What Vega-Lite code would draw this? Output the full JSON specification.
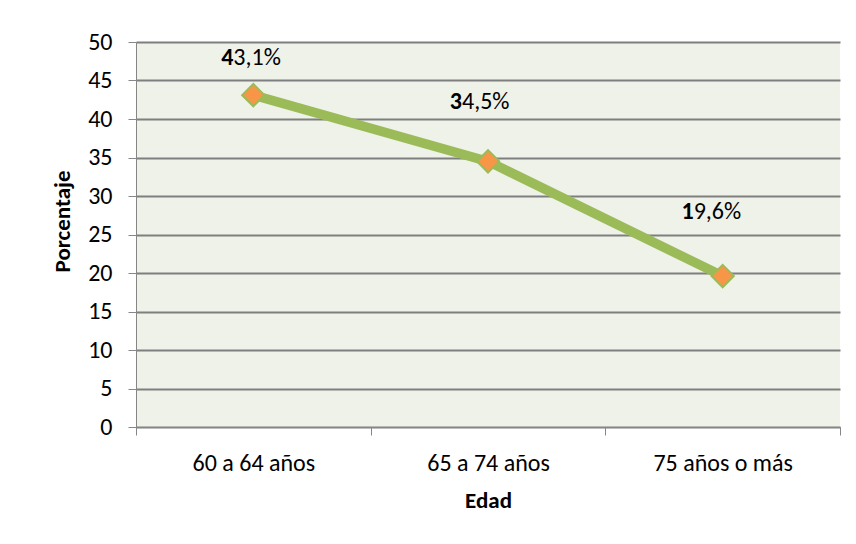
{
  "$schema": "https://vega.github.io/schema/vega-lite/v6.json",
  "width": 704,
  "height": 385,
  "autosize": {"type": "none"},
  "padding": {"left": 136, "top": 42, "right": 16, "bottom": 117},
  "background": "white",
  "config": {
    "view": {"fill": "#EFF2E9", "stroke": null},
    "font": "Carlito, Lato",
    "axis": {
      "domainColor": "#868686",
      "tickColor": "#868686",
      "gridColor": "#7f7f7f",
      "gridWidth": 1.8,
      "labelFont": "Carlito, Lato",
      "labelFontSize": 24,
      "labelColor": "#000000",
      "titleFont": "Carlito, Lato",
      "titleFontSize": 23,
      "titleFontWeight": "bold",
      "titleColor": "#000000"
    }
  },
  "data": {
    "values": [
      {"Edad": "60 a 64 años", "Porcentaje": 43.1, "a": "4", "b": "3,1%"},
      {"Edad": "65 a 74 años", "Porcentaje": 34.5, "a": "3", "b": "4,5%"},
      {"Edad": "75 años o más", "Porcentaje": 19.6, "a": "1", "b": "9,6%"}
    ]
  },
  "encoding": {
    "x": {
      "field": "Edad",
      "type": "nominal",
      "sort": null,
      "bandPosition": 0.5,
      "scale": {"type": "band", "paddingInner": 0, "paddingOuter": 0},
      "axis": {
        "title": "Edad",
        "labelAngle": 0,
        "tickBand": "extent",
        "tickSize": 8,
        "labelBaseline": "middle",
        "labelPadding": 28,
        "grid": false,
        "titleY": 73,
        "titleBaseline": "middle"
      }
    },
    "y": {
      "field": "Porcentaje",
      "type": "quantitative",
      "scale": {"domain": [0, 50], "nice": false},
      "axis": {
        "title": "Porcentaje",
        "values": [0, 5, 10, 15, 20, 25, 30, 35, 40, 45, 50],
        "tickSize": 8,
        "labelPadding": 16,
        "labelBaseline": "middle",
        "titleX": -74,
        "titleY": 179,
        "titleAngle": -90,
        "titleAlign": "center",
        "titleBaseline": "middle"
      }
    }
  },
  "layer": [
    {"mark": {"type": "line", "color": "#9BBB59", "strokeWidth": 9.5}},
    {"mark": {"type": "point", "shape": "diamond", "filled": true, "fill": "#F79646", "stroke": "#9BBB59", "strokeWidth": 2, "opacity": 1, "size": 500}},
    {"transform": [{"filter": "datum.Edad === '60 a 64 años'"}], "mark": {"type": "text", "align": "right", "baseline": "middle", "fontWeight": "bold", "fontSize": 24, "dx": -20, "dy": -37, "color": "#000000"}, "encoding": {"text": {"field": "a"}}},
    {"transform": [{"filter": "datum.Edad === '60 a 64 años'"}], "mark": {"type": "text", "align": "left", "baseline": "middle", "fontSize": 24, "dx": -20, "dy": -37, "color": "#000000"}, "encoding": {"text": {"field": "b"}}},
    {"transform": [{"filter": "datum.Edad === '65 a 74 años'"}], "mark": {"type": "text", "align": "right", "baseline": "middle", "fontWeight": "bold", "fontSize": 24, "dx": -26, "dy": -59, "color": "#000000"}, "encoding": {"text": {"field": "a"}}},
    {"transform": [{"filter": "datum.Edad === '65 a 74 años'"}], "mark": {"type": "text", "align": "left", "baseline": "middle", "fontSize": 24, "dx": -26, "dy": -59, "color": "#000000"}, "encoding": {"text": {"field": "b"}}},
    {"transform": [{"filter": "datum.Edad === '75 años o más'"}], "mark": {"type": "text", "align": "right", "baseline": "middle", "fontWeight": "bold", "fontSize": 24, "dx": -29, "dy": -64, "color": "#000000"}, "encoding": {"text": {"field": "a"}}},
    {"transform": [{"filter": "datum.Edad === '75 años o más'"}], "mark": {"type": "text", "align": "left", "baseline": "middle", "fontSize": 24, "dx": -29, "dy": -64, "color": "#000000"}, "encoding": {"text": {"field": "b"}}}
  ]
}
